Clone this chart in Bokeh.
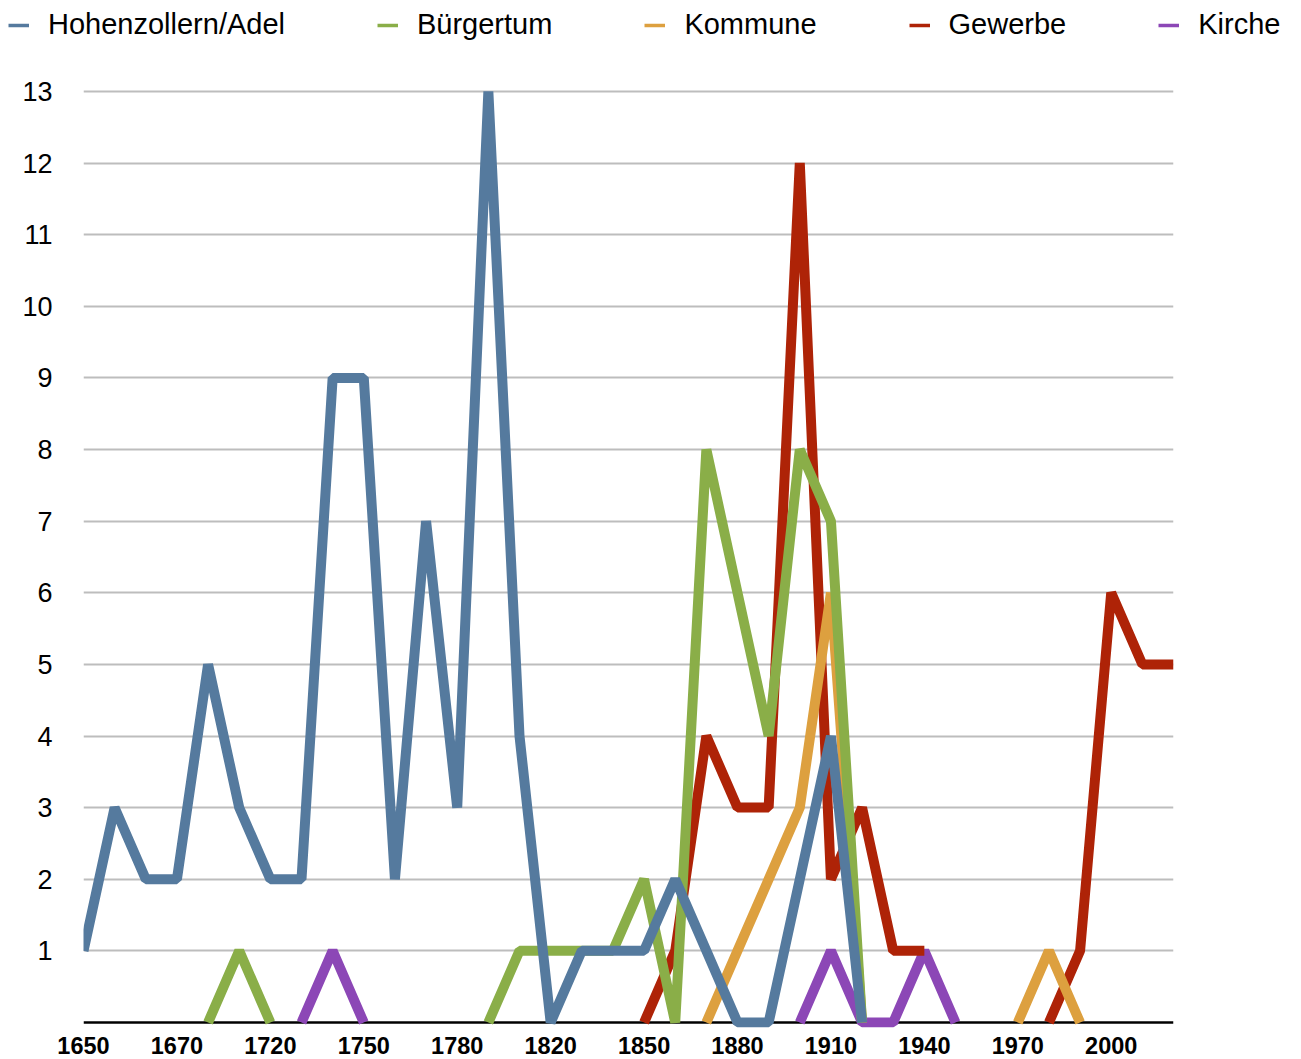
from bokeh.plotting import figure
from bokeh.layouts import column
from bokeh.models import (ColumnDataSource, FixedTicker, Range1d, Span,
                          Legend, LegendItem)
from bokeh.embed import file_html
from bokeh.resources import INLINE

nan = float("nan")

# ---- data -------------------------------------------------------------
categories = ["1650", "1655", "1660", "1670", "1680", "1700", "1720", "1730",
              "1740", "1750", "1760", "1770", "1780", "1790", "1800", "1820",
              "1830", "1840", "1850", "1860", "1870", "1880", "1890", "1900",
              "1910", "1920", "1930", "1940", "1950", "1960", "1970", "1980",
              "1990", "2000", "2010", "2020"]

hohenzollern_adel = [1, 3, 2, 2, 5, 3, 2, 2, 9, 9, 2, 7, 3, 13, 4, 0, 1, 1,
                     1, 2, 1, 0, 0, 2, 4, 0, nan, nan, nan, nan, nan, nan,
                     nan, nan, nan, nan]
buergertum = [nan, nan, nan, nan, 0, 1, 0, nan, nan, nan, nan, nan, nan, 0,
              1, 1, 1, 1, 2, 0, 8, 6, 4, 8, 7, 0, nan, nan, nan, nan, nan,
              nan, nan, nan, nan, nan]
kommune = [nan, nan, nan, nan, nan, nan, nan, nan, nan, nan, nan, nan, nan,
           nan, nan, nan, nan, nan, nan, nan, 0, 1, 2, 3, 6, 0, nan, nan,
           nan, nan, 0, 1, 0, nan, nan, nan]
gewerbe = [nan, nan, nan, nan, nan, nan, nan, nan, nan, nan, nan, nan, nan,
           nan, nan, nan, nan, nan, 0, 1, 4, 3, 3, 12, 2, 3, 1, 1, nan, nan,
           nan, 0, 1, 6, 5, 5]
kirche = [nan, nan, nan, nan, nan, nan, nan, 0, 1, 0, nan, nan, nan, nan,
          nan, nan, nan, nan, nan, nan, nan, nan, nan, 0, 1, 0, 0, 1, 0, nan,
          nan, nan, nan, nan, nan, nan]

series_names = ["Hohenzollern/Adel", "Bürgertum", "Kommune", "Gewerbe", "Kirche"]
series_values = [hohenzollern_adel, buergertum, kommune, gewerbe, kirche]
series_colors = ["#557A9E", "#8AAE48", "#DDA03F", "#AE2307", "#8C47B6"]

y_ticks = [1, 2, 3, 4, 5, 6, 7, 8, 9, 10, 11, 12, 13]
label_every = 3

FONT = "Liberation Sans"
xs = list(range(len(categories)))

# ---- legend strip (its own figure so nothing clips it) ---------------------
leg_fig = figure(width=1290, height=73, x_range=Range1d(0, 1),
                 y_range=Range1d(0, 1), output_backend="svg",
                 toolbar_location=None, x_axis_type=None, y_axis_type=None,
                 min_border=0)
leg_fig.frame_align = False
leg_fig.outline_line_color = None
leg_fig.grid.visible = False
items = []
for name, col in zip(series_names, series_colors):
    # a single undefined point: nothing is drawn, but the legend glyph is
    r = leg_fig.line(x=[nan], y=[nan], line_width=3.5, line_color=col)
    items.append(LegendItem(label=name, renderers=[r]))
legend = Legend(items=items, orientation="horizontal",
                location=(8, 32), padding=0, margin=0, spacing=92,
                glyph_width=21, glyph_height=20, label_standoff=19,
                label_text_font=FONT, label_text_font_size="29px",
                label_text_color="black",
                border_line_color=None, background_fill_alpha=0)
leg_fig.add_layout(legend)

# ---- main chart -------------------------------------------------------
p = figure(width=1290, height=986,
           x_range=Range1d(0, len(categories) - 1),
           y_range=Range1d(-0.07, 13.25),
           output_backend="svg", toolbar_location=None,
           min_border_left=83, min_border_right=117,
           min_border_top=0, min_border_bottom=32)
p.frame_align = False
p.outline_line_color = None
p.background_fill_color = "white"
p.border_fill_color = "white"

# baseline at 0
p.add_layout(Span(location=0, dimension="width", line_color="black",
                  line_width=2.5, level="underlay"))

src = ColumnDataSource(dict(x=xs, **{f"s{i}": v for i, v in enumerate(series_values)}))

# draw in reverse order so the first series is on top
for i in reversed(range(len(series_names))):
    p.line(x="x", y=f"s{i}", source=src, line_width=10,
           line_color=series_colors[i], line_join="bevel", line_cap="butt")

# y axis
p.yaxis.ticker = FixedTicker(ticks=y_ticks)
p.yaxis.axis_line_color = None
p.yaxis.major_tick_line_color = None
p.yaxis.major_tick_out = 0
p.yaxis.major_tick_in = 0
p.yaxis.minor_tick_line_color = None
p.yaxis.major_label_standoff = 31
p.yaxis.major_label_text_font = FONT
p.yaxis.major_label_text_font_size = "27px"
p.yaxis.major_label_text_color = "black"
p.ygrid.grid_line_color = "#BDBDBD"
p.ygrid.grid_line_width = 2

# x axis
tick_idx = xs[::label_every]
p.xaxis.ticker = FixedTicker(ticks=tick_idx)
p.xaxis.major_label_overrides = {i: categories[i] for i in tick_idx}
p.xaxis.axis_line_color = None
p.xaxis.major_tick_line_color = None
p.xaxis.minor_tick_line_color = None
p.xaxis.major_label_standoff = 3
p.xaxis.major_label_text_font = FONT
p.xaxis.major_label_text_font_size = "23.5px"
p.xaxis.major_label_text_font_style = "bold"
p.xaxis.major_label_text_color = "black"
p.xgrid.grid_line_color = None

layout = column(leg_fig, p, spacing=0)
open("out.html", "w").write(file_html(layout, INLINE))
